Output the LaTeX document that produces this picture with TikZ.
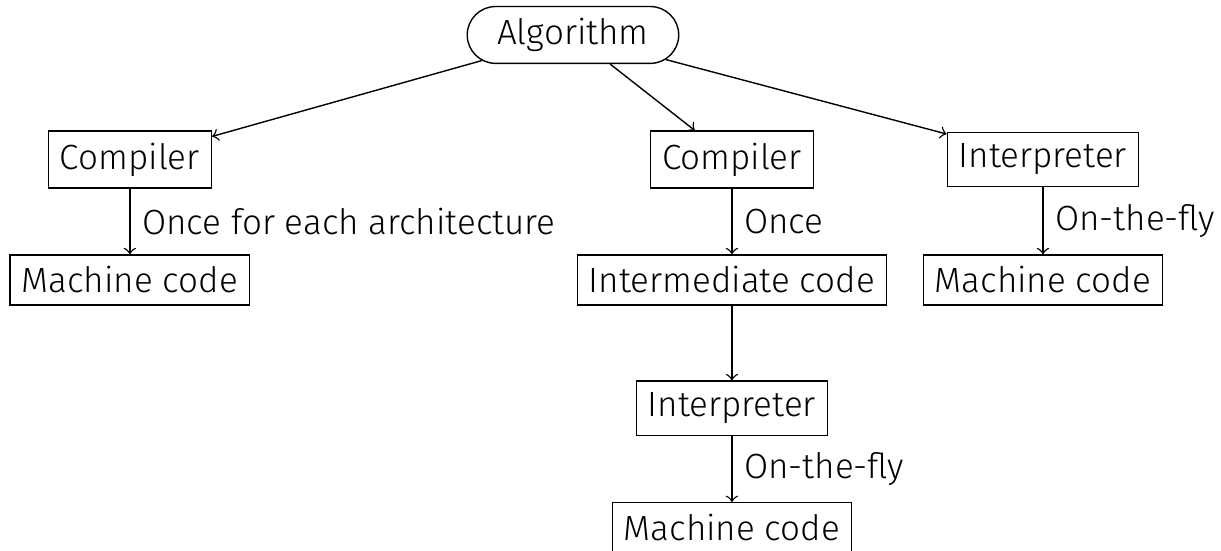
\documentclass[tikz,border=0pt]{standalone}
\usepackage{fontspec}
\setmainfont{Fira Sans Light}
\usepackage{tikz}
\usetikzlibrary{shapes.misc}

\begin{document}
\begin{tikzpicture}[
		box/.style={draw, rectangle},
		start/.style={draw, rounded rectangle, inner xsep=7pt}
	]
	\useasboundingbox (0,0) rectangle (12.262,5.533);

	\coordinate (A) at (5.754,5.182);
	\coordinate (L1) at (1.304,3.931);
	\coordinate (L2) at (1.304,2.721);
	\coordinate (M1) at (7.35,3.931);
	\coordinate (M2) at (7.35,2.721);
	\coordinate (M3) at (7.35,1.433);
	\coordinate (M4) at (7.35,0.233);
	\coordinate (R1) at (10.474,3.931);
	\coordinate (R2) at (10.474,2.721);

	\node[start] (algo) at (A) {Algorithm};
	\node[box] (comp1) at (L1) {Compiler};
	\node[box] (mach1) at (L2) {Machine code};
	\node[box] (comp2) at (M1) {Compiler};
	\node[box] (inter) at (M2) {Intermediate code};
	\node[box] (interp2) at (M3) {Interpreter};
	\node[box] (mach2) at (M4) {Machine code};
	\node[box] (interp1) at (R1) {Interpreter};
	\node[box] (mach3) at (R2) {Machine code};

	\draw[->] (algo) -- (comp1);
	\draw[->] (algo) -- (comp2);
	\draw[->] (algo) -- (interp1);

	\draw[->] (comp1) -- (mach1) node[midway, right] {Once for each architecture};
	\draw[->] (comp2) -- (inter) node[midway, right] {Once};
	\draw[->] (inter) -- (interp2);
	\draw[->] (interp2) -- (mach2) node[midway, right] {On-the-fly};
	\draw[->] (interp1) -- (mach3) node[midway, right] {On-the-fly};
\end{tikzpicture}
\end{document}
